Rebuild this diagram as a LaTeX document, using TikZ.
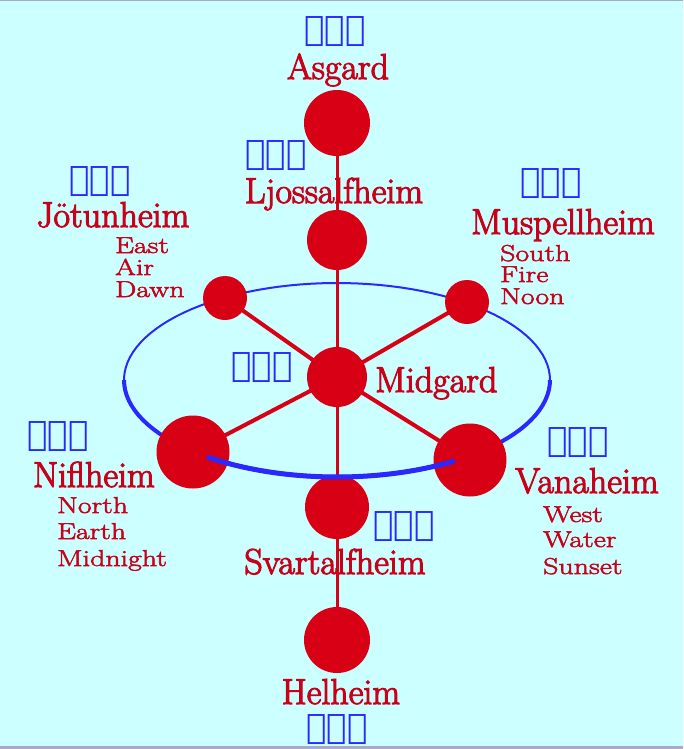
\documentclass[tikz,border=0pt]{standalone}
\usepackage{fontspec}
\usepackage{tikz}
\usetikzlibrary{backgrounds}
\newfontfamily\runefont{DejaVu Sans}
\newfontfamily\namefont[FakeBold=3]{Latin Modern Roman}
\newfontfamily\widefont[FakeStretch=1.3,FakeBold=2.5]{Latin Modern Roman}
\definecolor{cBg}{RGB}{204,255,255}
\definecolor{cWorld}{RGB}{215,0,20}
\definecolor{cName}{RGB}{200,0,25}
\definecolor{cRune}{RGB}{40,40,255}
\definecolor{cFrame}{RGB}{170,170,200}

\begin{document}
\begin{tikzpicture}[x=1pt,y=-1pt,
    world/.style={circle,fill=cWorld,inner sep=0pt},
    worldname/.style={text=cName,font=\namefont\fontsize{36}{36}\selectfont,anchor=base,inner sep=0pt},
    attr/.style={text=cName,font=\widefont\fontsize{23}{23}\selectfont,anchor=base west,inner sep=0pt},
    rune/.style={text=cRune,font=\runefont\fontsize{34}{34}\selectfont,inner sep=0pt},
    spoke/.style={cWorld,line width=4pt},
    ring/.style={cRune,line width=2pt}
  ]
  \useasboundingbox (0,0) rectangle (683,749);

  % the nine worlds
  \node[world,minimum size=66] (asg) at (337,123) {};
  \node[world,minimum size=60] (lja) at (337,240) {};
  \node[world,minimum size=44] (jot) at (225,298) {};
  \node[world,minimum size=44] (mus) at (467,302) {};
  \node[world,minimum size=60] (mid) at (337,377) {};
  \node[world,minimum size=73] (nif) at (193,452) {};
  \node[world,minimum size=73] (van) at (470,460) {};
  \node[world,minimum size=64] (sva) at (337,507) {};
  \node[world,minimum size=66] (hel) at (337,640) {};

  \begin{scope}[on background layer]
    \fill[cBg] (0,0) rectangle (683,749);
    \fill[cFrame] (0,0) rectangle (683,1);
    \fill[cFrame] (0,746) rectangle (683,749);
    \draw[ring] plot[domain=0:360,samples=120] ({337+213*cos(\x)},{380+97*sin(\x)});
    \draw[ring,line width=4pt] plot[domain=0:180,samples=60] ({337+213*cos(\x)},{380+97*sin(\x)});
    \draw[cWorld,line width=3pt] (asg.center) -- (hel.center);
    \draw[spoke] (mid.center) -- (jot.center);
    \draw[spoke] (mid.center) -- (mus.center);
    \draw[spoke] (mid.center) -- (nif.center);
    \draw[spoke] (mid.center) -- (van.center);
  \end{scope}

  % front of the ring
  \draw[ring,line width=5pt,line cap=round] plot[domain=57:127,samples=40] ({337+213*cos(\x)},{380+97*sin(\x)});

  % names
  \node[worldname] (asg-n) at (338,79) {Asgard};
  \node[worldname] (lja-n) at (334,203) {Ljossalfheim};
  \node[worldname] (jot-n) at (113,227) {Jötunheim};
  \node[worldname] (mus-n) at (563,234) {Muspellheim};
  \node[worldname,anchor=base west] (mid-n) at (375,392) {Midgard};
  \node[worldname] (nif-n) at (94,487) {Niflheim};
  \node[worldname] (van-n) at (587,493) {Vanaheim};
  \node[worldname] (sva-n) at (335,574) {Svartalfheim};
  \node[worldname] (hel-n) at (341,704) {Helheim};

  \foreach \txt/\y in {East/253,Air/275,Dawn/297}
    \node[attr] (jot-\txt) at (115,\y) {\txt};
  \foreach \txt/\y in {South/261,Fire/282,Noon/304}
    \node[attr] (mus-\txt) at (500,\y) {\txt};
  \foreach \txt/\y in {North/513,Earth/539,Midnight/566}
    \node[attr] (nif-\txt) at (57,\y) {\txt};
  \foreach \txt/\y in {West/522,Water/547,Sunset/574}
    \node[attr] (van-\txt) at (543,\y) {\txt};

  % runes
  \node[rune] (asg-r) at (335,32) {ᚨᛏᛟ};
  \node[rune] (lja-r) at (276,156) {ᚹᛉᛗ};
  \node[rune] (jot-r) at (100,182) {ᚦᚺᛒ};
  \node[rune] (mus-r) at (551,184) {ᚱᛊᛞ};
  \node[rune] (mid-r) at (262,368) {ᚷᛃᛗ};
  \node[rune] (nif-r) at (58,437) {ᚢᛁᛏ};
  \node[rune] (van-r) at (578,443) {ᚠᛈᛜ};
  \node[rune] (sva-r) at (404,527) {ᚲᛉᚨ};
  \node[rune] (hel-r) at (337,730) {ᚺᛇᛚ};
\end{tikzpicture}
\end{document}
